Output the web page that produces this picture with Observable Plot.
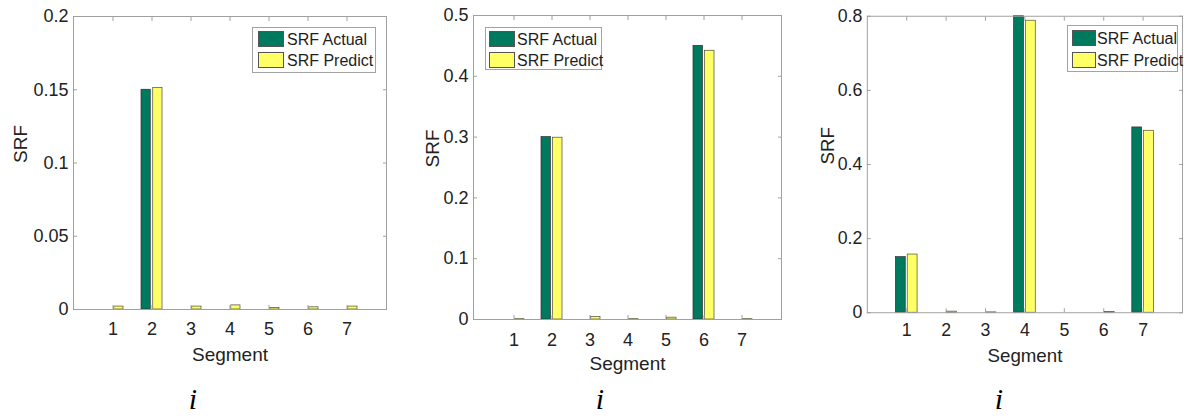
<!DOCTYPE html>
<html>
<head>
<meta charset="utf-8">
<script src="https://cdn.jsdelivr.net/npm/d3@7"></script>
<script src="https://cdn.jsdelivr.net/npm/@observablehq/plot@0.6"></script>
<style>
html, body { margin: 0; padding: 0; background: #fff; overflow: hidden; width: 1184px; height: 416px; }
#root { position: relative; width: 1184px; height: 416px; overflow: hidden; font-family: "Liberation Sans", Arial, sans-serif; }
.panel { position: absolute; top: 0; }
.legend { position: absolute; background: #fff; border: 1px solid #a3a3a3; box-sizing: border-box; }
.sw { position: absolute; box-sizing: border-box; border: 1px solid #555; }
.lt { position: absolute; font-size: 16px; line-height: 16px; color: #1e1e1e; white-space: nowrap; }
.cap { position: absolute; width: 40px; text-align: center; font-family: "Liberation Serif", "Times New Roman", serif; font-style: italic; font-size: 30px; line-height: 30px; color: #000; }
</style>
</head>
<body>
<div id="root"></div>
<script>
// ---- data ----
const segments = [1, 2, 3, 4, 5, 6, 7];
const seriesNames = ["SRF Actual", "SRF Predict"];
const xLabel = "Segment";
const yLabel = "SRF";
const caption = "i";

const actual1  = [0, 0.15, 0, 0, 0, 0, 0];
const predict1 = [0.002, 0.1512, 0.002, 0.0028, 0.001, 0.0015, 0.002];
const yTicks1 = [0, 0.05, 0.1, 0.15, 0.2];
const yTickLabels1 = ["0", "0.05", "0.1", "0.15", "0.2"];

const actual2  = [0, 0.3, 0, 0, 0, 0.45, 0];
const predict2 = [0.0005, 0.299, 0.004, 0.0005, 0.003, 0.442, 0.0005];
const yTicks2 = [0, 0.1, 0.2, 0.3, 0.4, 0.5];
const yTickLabels2 = ["0", "0.1", "0.2", "0.3", "0.4", "0.5"];

const actual3  = [0.15, 0, 0, 0.8, 0, 0, 0.5];
const predict3 = [0.157, 0.003, 0.001, 0.788, 0, 0.002, 0.491];
const yTicks3 = [0, 0.2, 0.4, 0.6, 0.8];
const yTickLabels3 = ["0", "0.2", "0.4", "0.6", "0.8"];

// ---- style ----
const green = "#007a5e";
const yellow = "#ffff66";
const frameGray = "#a0a0a0";

const panels = [
  { actual: actual1, predict: predict1, yTicks: yTicks1, yLabels: yTickLabels1, yMax: 0.2,
    left: 0, width: 400, height: 380, mt: 16, mb: 71, ml: 73, mr: 14, xPad: 13, xLabelDy: 38, yLabelDx: -53,
    legend: { x: 252, y: 27, w: 124, h: 46, swX: 258, swW: 26, r1: 31, r2: 52, swH: 16, tx: 287 }, capX: 193 },
  { actual: actual2, predict: predict2, yTicks: yTicks2, yLabels: yTickLabels2, yMax: 0.5,
    left: 400, width: 400, height: 380, mt: 15, mb: 61, ml: 73, mr: 19, xPad: 14, xLabelDy: 37, yLabelDx: -41,
    legend: { x: 485, y: 27, w: 117, h: 43, swX: 489, swW: 26, r1: 31, r2: 52, swH: 16, tx: 517 }, capX: 600 },
  { actual: actual3, predict: predict3, yTicks: yTicks3, yLabels: yTickLabels3, yMax: 0.8,
    left: 790, width: 400, height: 380, mt: 16, mb: 63, ml: 78, mr: 2, xPad: 11, xLabelDy: 37, yLabelDx: -40,
    legend: { x: 1067, y: 25, w: 111, h: 47, swX: 1072, swW: 24, r1: 30, r2: 52, swH: 16, tx: 1097 }, capX: 999 }
];

const root = document.getElementById("root");

for (const p of panels) {
  const rows = segments.map((s, i) => ({ segment: s, actual: p.actual[i], predict: p.predict[i] }));
  const plotW = p.width - p.ml - p.mr;
  const bw = (plotW / 8) * 0.6;
  const fmt = d => p.yLabels[p.yTicks.indexOf(d)];
  const chart = Plot.plot({
    width: p.width,
    height: p.height,
    marginTop: p.mt,
    marginBottom: p.mb,
    marginLeft: p.ml,
    marginRight: p.mr,
    style: { fontSize: "18px", fontFamily: "'Liberation Sans', Arial, sans-serif", color: "#222", background: "transparent", overflow: "visible" },
    x: { type: "band", domain: segments, paddingInner: 0.4, paddingOuter: 0.7, align: 0.5 },
    y: { domain: [0, p.yMax] },
    marks: [
      Plot.barY(rows, { x: "segment", y: "actual", fill: green, stroke: "#2e2e2e", strokeWidth: 0.7, insetLeft: 1, insetRight: bw / 2 + 1 }),
      Plot.barY(rows, { x: "segment", y: "predict", fill: yellow, stroke: "#4a4a3a", strokeWidth: 0.7, insetLeft: bw / 2 + 1, insetRight: 1 }),
      Plot.frame({ stroke: frameGray, strokeWidth: 1 }),
      Plot.axisX({ anchor: "bottom", tickSize: 0, tickPadding: p.xPad, label: null }),
      Plot.axisX({ anchor: "top", tickSize: 4, dy: 4, tickFormat: () => "", label: null, stroke: frameGray }),
      Plot.axisX({ anchor: "bottom", tickSize: 4, dy: -4, tickFormat: () => "", label: null, stroke: frameGray }),
      Plot.axisY({ anchor: "left", ticks: p.yTicks, tickFormat: fmt, tickSize: 0, tickPadding: 5, label: null }),
      Plot.axisY({ anchor: "left", ticks: p.yTicks, tickSize: 4, dx: 4, tickFormat: () => "", label: null, stroke: frameGray }),
      Plot.axisY({ anchor: "right", ticks: p.yTicks, tickSize: 4, dx: -4, tickFormat: () => "", label: null, stroke: frameGray }),
      Plot.text([xLabel], { frameAnchor: "bottom", lineAnchor: "top", dy: p.xLabelDy, text: d => d, fill: "#222", fontSize: 19 }),
      Plot.text([yLabel], { frameAnchor: "left", lineAnchor: "middle", rotate: -90, dx: p.yLabelDx, text: d => d, fill: "#222", fontSize: 19 })
    ]
  });
  const wrap = document.createElement("div");
  wrap.className = "panel";
  wrap.style.left = p.left + "px";
  wrap.appendChild(chart);
  root.appendChild(wrap);

  // legend
  const L = p.legend;
  const lg = document.createElement("div");
  lg.className = "legend";
  lg.style.left = L.x + "px"; lg.style.top = L.y + "px";
  lg.style.width = L.w + "px"; lg.style.height = L.h + "px";
  root.appendChild(lg);
  [[seriesNames[0], green, L.r1], [seriesNames[1], yellow, L.r2]].forEach(([name, col, ry]) => {
    const sw = document.createElement("div");
    sw.className = "sw";
    sw.style.left = (L.swX - L.x - 1) + "px"; sw.style.top = (ry - L.y - 1) + "px";
    sw.style.width = L.swW + "px"; sw.style.height = L.swH + "px";
    sw.style.background = col;
    lg.appendChild(sw);
    const t = document.createElement("div");
    t.className = "lt";
    t.style.left = (L.tx - L.x - 1) + "px"; t.style.top = (ry - L.y) + "px";
    t.textContent = name;
    lg.appendChild(t);
  });

  // caption
  const c = document.createElement("div");
  c.className = "cap";
  c.style.left = (p.capX - 20) + "px";
  c.style.top = "384px";
  c.textContent = caption;
  root.appendChild(c);
}
</script>
</body>
</html>
